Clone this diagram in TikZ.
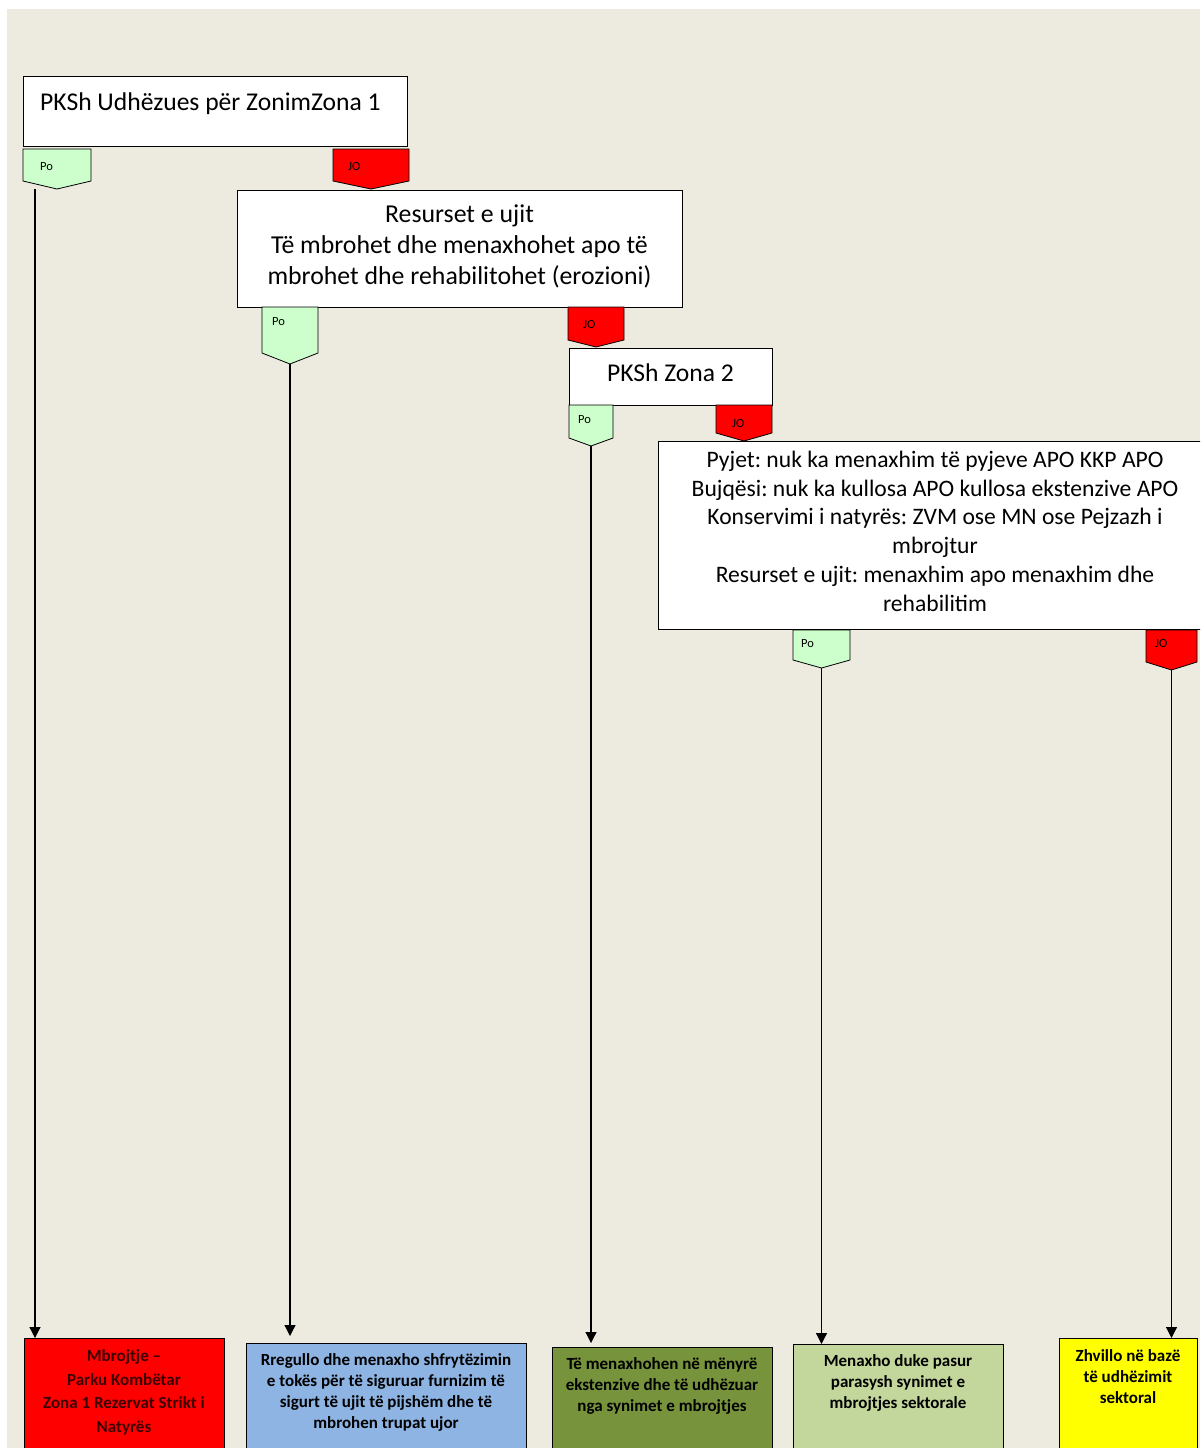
\documentclass[tikz,border=0pt]{standalone}
\usepackage{fontspec}
\setmainfont{Carlito}
\frenchspacing
\usetikzlibrary{arrows.meta}
\definecolor{bgbeige}{RGB}{237,234,224}
\definecolor{pogreen}{RGB}{204,255,204}
\definecolor{jored}{RGB}{255,0,0}
\definecolor{outred}{RGB}{255,0,0}
\definecolor{outblue}{RGB}{142,180,227}
\definecolor{outolive}{RGB}{119,147,60}
\definecolor{outlight}{RGB}{195,214,155}
\definecolor{outyellow}{RGB}{255,255,0}
\definecolor{darkredtext}{RGB}{60,0,0}
\newcommand\tagpent[7]{%
  \draw[#2] (#3,#5) -- (#4,#5) -- (#4,#6) -- ({(#3+#4)/2},#7) -- (#3,#6) -- cycle;
  \coordinate (#1) at ({(#3+#4)/2},#7);}
\begin{document}
\begin{tikzpicture}[x=1pt,y=-1pt,
  box/.style={draw=black, line width=1pt, fill=white, anchor=north west, inner sep=0pt},
  potag/.style={draw=black, line width=0.8pt, fill=pogreen},
  jotag/.style={draw=black, line width=0.8pt, fill=jored},
  taglbl/.style={font=\fontsize{12.5}{13}\selectfont, anchor=west, inner sep=0pt},
  conn/.style={-{Triangle[length=11pt,width=11pt]}, line width=1.2pt},
  outbox/.style={draw=black, line width=1pt, anchor=north west, inner sep=0pt},
  outtext/.style={font=\bfseries\fontsize{17}{21}\selectfont, align=center, anchor=north, inner sep=0pt},
  bigtext/.style={font=\fontsize{25.8}{31}\selectfont, align=center, anchor=north, inner sep=0pt}
]
\clip (0,0) rectangle (1200,1448);
\fill[white] (0,0) rectangle (1200,1448);
\fill[bgbeige] (7,9) rectangle (1200,1448);

% main boxes
\node[box, minimum width=384pt, minimum height=70pt] (z1) at (23,76) {};
\node[font=\fontsize{25.6}{30}\selectfont, anchor=base west, inner sep=0pt] (z1t) at (40,110) {PKSh Udhëzues për ZonimZona 1};

\node[box, minimum width=445pt, minimum height=117pt] (z2) at (237,190) {};
\node[bigtext] (z2t) at (459.5,205) {Resurset e ujit\\Të mbrohet dhe menaxhohet apo të\\mbrohet dhe rehabilitohet (erozioni)};

\node[box, minimum width=203pt, minimum height=57pt] (z3) at (569,348) {};
\node[font=\fontsize{25.6}{30}\selectfont, anchor=base, inner sep=0pt] (z3t) at (670.5,381) {PKSh Zona 2};

\node[box, minimum width=554pt, minimum height=188pt] (z4) at (658,441) {};
\node[font=\fontsize{23.6}{28.7}\selectfont, align=center, anchor=north, inner sep=0pt] (z4t) at (935,451) {Pyjet: nuk ka menaxhim të pyjeve APO KKP APO\\Bujqësi: nuk ka kullosa APO kullosa ekstenzive APO\\Konservimi i natyrës: ZVM ose MN ose Pejzazh i\\mbrojtur\\Resurset e ujit: menaxhim apo menaxhim dhe\\rehabilitim};

% tags
\tagpent{po1}{potag}{23}{91}{149}{181}{189}
\node[taglbl] (po1l) at (40,167) {Po};
\tagpent{jo1}{jotag}{333}{409}{149}{181}{189}
\node[taglbl] (jo1l) at (348,166) {JO};

\tagpent{po2}{potag}{262}{318}{307}{353}{364}
\node[taglbl] (po2l) at (272,322) {Po};
\tagpent{jo2}{jotag}{568}{624}{307}{340}{347}
\node[taglbl] (jo2l) at (583,324) {JO};

\tagpent{po3}{potag}{569}{613}{405}{438}{446}
\node[taglbl] (po3l) at (578,420) {Po};
\tagpent{jo3}{jotag}{716}{772}{405}{433}{441}
\node[taglbl] (jo3l) at (732,423) {JO};

\tagpent{po4}{potag}{793}{850}{630}{660}{668}
\node[taglbl] (po4l) at (801,644) {Po};
\tagpent{jo4}{jotag}{1146}{1197}{630}{662}{670}
\node[taglbl] (jo4l) at (1155,643) {JO};

% outcome boxes
\node[outbox, fill=outred, minimum width=200pt, minimum height=120pt] (b1) at (24,1338) {};
\node[outtext, text=darkredtext, font=\bfseries\fontsize{17}{23.6}\selectfont] (b1t) at (124,1349.5) {Mbrojtje –\\Parku Kombëtar\\Zona 1 Rezervat Strikt i\\Natyrës};

\node[outbox, fill=outblue, minimum width=280pt, minimum height=120pt] (b2) at (246,1343) {};
\node[outtext] (b2t) at (386,1353.5) {Rregullo dhe menaxho shfrytëzimin\\e tokës për të siguruar furnizim të\\sigurt të ujit të pijshëm dhe të\\mbrohen trupat ujor};

\node[outbox, fill=outolive, minimum width=220pt, minimum height=120pt] (b3) at (552,1347) {};
\node[outtext] (b3t) at (662,1357.5) {Të menaxhohen në mënyrë\\ekstenzive dhe të udhëzuar\\nga synimet e mbrojtjes};

\node[outbox, fill=outlight, minimum width=210pt, minimum height=120pt] (b4) at (793,1344) {};
\node[outtext] (b4t) at (898,1354.5) {Menaxho duke pasur\\parasysh synimet e\\mbrojtjes sektorale};

\node[outbox, fill=outyellow, minimum width=138pt, minimum height=120pt] (b5) at (1059,1338) {};
\node[outtext] (b5t) at (1128,1349.5) {Zhvillo në bazë\\të udhëzimit\\sektoral};

% connectors
\coordinate (a1) at (35,189);
\draw[conn] (a1) -- (a1 |- b1.north);
\draw[conn, shorten >=7pt] (po2) -- (po2 |- b2.north);
\draw[conn, shorten >=4pt] (po3) -- (po3 |- b3.north);
\draw[conn] (po4) -- (po4 |- b4.north);
\draw[conn] (jo4) -- (jo4 |- b5.north);
\end{tikzpicture}
\end{document}
